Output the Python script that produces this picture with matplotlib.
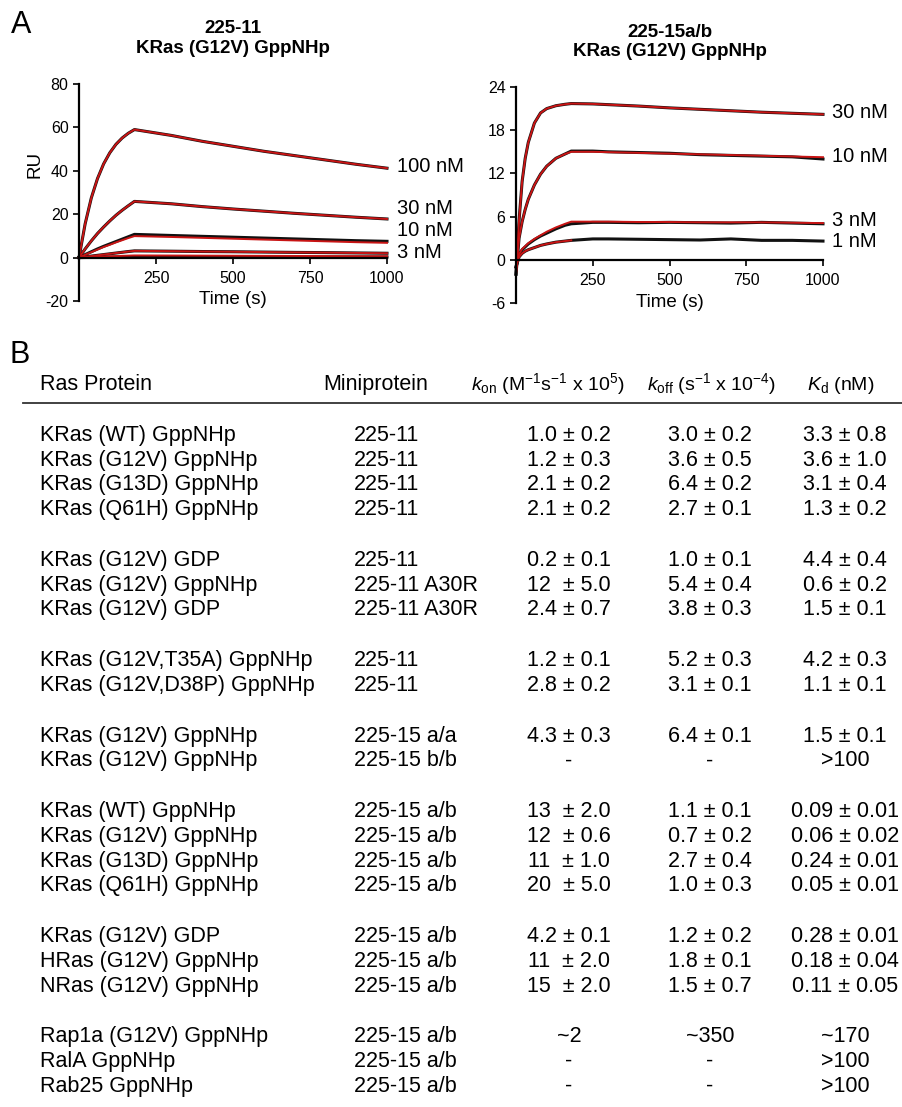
import matplotlib

matplotlib.use("Agg")
import matplotlib.pyplot as plt  # noqa: E402
from matplotlib.lines import Line2D  # noqa: E402

plt.rcParams["font.family"] = ["Liberation Sans", "DejaVu Sans"]
plt.rcParams["mathtext.fontset"] = "custom"
plt.rcParams["mathtext.rm"] = "Liberation Sans"
plt.rcParams["mathtext.it"] = "Liberation Sans:italic"
plt.rcParams["mathtext.bf"] = "Liberation Sans:bold"
plt.rcParams["axes.unicode_minus"] = False

W, H = 902, 1107
TRACE = "#111111"
FIT = "#c81414"

# ---- panel A, left: 225-11 binding KRas(G12V) GppNHp
left_time = [0, 20, 40, 60, 80, 100, 120, 140, 160, 180,
             300, 400, 500, 600, 700, 800, 900, 1000]
left_fit_100 = [0, 15.6, 27.5, 36.4, 43.2, 48.3, 52.2, 55.1, 57.3, 59.0,
                56.3, 53.6, 51.3, 49.0, 47.0, 45.0, 43.0, 41.2]
left_fit_30 = [0, 4.0, 7.7, 11.1, 14.1, 16.9, 19.5, 21.8, 23.9, 25.9,
               24.8, 23.5, 22.4, 21.4, 20.4, 19.5, 18.6, 17.8]
left_fit_10 = [0, 1.3, 2.5, 3.7, 4.9, 5.9, 7.0, 8.0, 9.0, 9.9,
               9.5, 9.1, 8.7, 8.3, 7.9, 7.5, 7.1, 6.8]
left_fit_3 = [0, 0.35, 0.7, 1.05, 1.4, 1.75, 2.1, 2.45, 2.8, 3.1,
              2.95, 2.8, 2.7, 2.55, 2.4, 2.3, 2.15, 2.0]
left_fit_1 = [0, 0.12, 0.23, 0.35, 0.46, 0.57, 0.68, 0.8, 0.9, 1.0,
              0.95, 0.9, 0.85, 0.8, 0.75, 0.7, 0.65, 0.6]
left_trace_10 = [0, 1.4, 2.7, 4.0, 5.2, 6.3, 7.4, 8.5, 9.6, 10.7,
                 10.2, 9.8, 9.4, 9.0, 8.6, 8.2, 7.8, 7.5]
left_trace_1 = [0, 0.05, 0.1, 0.15, 0.2, 0.25, 0.3, 0.35, 0.4, 0.45,
                0.45, 0.4, 0.4, 0.35, 0.35, 0.3, 0.3, 0.3]
left_labels = ["100 nM", "30 nM", "10 nM", "3 nM"]

# ---- panel A, right: 225-15a/b binding KRas(G12V) GppNHp
right_time = [0, 10, 20, 30, 40, 60, 80, 100, 130, 160, 180,
              250, 300, 400, 500, 600, 700, 800, 900, 1000]
right_fit_30 = [-2.0, 5.5, 10.9, 14.1, 16.3, 19.0, 20.4, 21.0, 21.4, 21.6, 21.7,
                21.65, 21.55, 21.35, 21.1, 20.9, 20.7, 20.5, 20.35, 20.2]
right_fit_10 = [-2.0, 3.0, 5.3, 7.0, 8.4, 10.4, 11.9, 13.0, 14.1, 14.7, 15.0,
                15.0, 14.95, 14.85, 14.75, 14.65, 14.55, 14.45, 14.35, 14.25]
right_fit_3 = [-1.0, 0.8, 1.5, 1.9, 2.3, 2.9, 3.4, 3.9, 4.5, 5.0, 5.3,
               5.3, 5.3, 5.25, 5.25, 5.2, 5.2, 5.2, 5.15, 5.1]
right_trace_3 = [-1.0, 0.8, 1.4, 1.8, 2.2, 2.8, 3.3, 3.7, 4.3, 4.8, 5.0,
                 5.2, 5.2, 5.15, 5.2, 5.15, 5.1, 5.2, 5.1, 5.0]
right_trace_10 = [-2.0, 3.0, 5.3, 7.0, 8.4, 10.4, 11.9, 13.0, 14.1, 14.7, 15.1,
                  15.1, 15.0, 14.9, 14.8, 14.6, 14.5, 14.4, 14.3, 14.0]
right_fit_1_time = [0, 10, 20, 30, 40, 60, 80, 100, 130, 160, 180]
right_fit_1 = [-1.0, 0.4, 0.9, 1.2, 1.4, 1.7, 2.0, 2.2, 2.45, 2.6, 2.7]
right_trace_1 = [-1.0, 0.4, 0.9, 1.2, 1.4, 1.7, 2.0, 2.2, 2.45, 2.6, 2.7,
                 2.9, 2.9, 2.85, 2.8, 2.75, 2.9, 2.7, 2.7, 2.6]
right_labels = ["30 nM", "10 nM", "3 nM", "1 nM"]

# ---- panel B table
ras_proteins = [
    "KRas (WT) GppNHp", "KRas (G12V) GppNHp", "KRas (G13D) GppNHp", "KRas (Q61H) GppNHp",
    "KRas (G12V) GDP", "KRas (G12V) GppNHp", "KRas (G12V) GDP",
    "KRas (G12V,T35A) GppNHp", "KRas (G12V,D38P) GppNHp",
    "KRas (G12V) GppNHp", "KRas (G12V) GppNHp",
    "KRas (WT) GppNHp", "KRas (G12V) GppNHp", "KRas (G13D) GppNHp", "KRas (Q61H) GppNHp",
    "KRas (G12V) GDP", "HRas (G12V) GppNHp", "NRas (G12V) GppNHp",
    "Rap1a (G12V) GppNHp", "RalA GppNHp", "Rab25 GppNHp",
]
miniproteins = [
    "225-11", "225-11", "225-11", "225-11",
    "225-11", "225-11 A30R", "225-11 A30R",
    "225-11", "225-11",
    "225-15 a/a", "225-15 b/b",
    "225-15 a/b", "225-15 a/b", "225-15 a/b", "225-15 a/b",
    "225-15 a/b", "225-15 a/b", "225-15 a/b",
    "225-15 a/b", "225-15 a/b", "225-15 a/b",
]
kon_vals = [
    "1.0 ± 0.2", "1.2 ± 0.3", "2.1 ± 0.2", "2.1 ± 0.2",
    "0.2 ± 0.1", "12  ± 5.0", "2.4 ± 0.7",
    "1.2 ± 0.1", "2.8 ± 0.2",
    "4.3 ± 0.3", "-",
    "13  ± 2.0", "12  ± 0.6", "11  ± 1.0", "20  ± 5.0",
    "4.2 ± 0.1", "11  ± 2.0", "15  ± 2.0",
    "~2", "-", "-",
]
koff_vals = [
    "3.0 ± 0.2", "3.6 ± 0.5", "6.4 ± 0.2", "2.7 ± 0.1",
    "1.0 ± 0.1", "5.4 ± 0.4", "3.8 ± 0.3",
    "5.2 ± 0.3", "3.1 ± 0.1",
    "6.4 ± 0.1", "-",
    "1.1 ± 0.1", "0.7 ± 0.2", "2.7 ± 0.4", "1.0 ± 0.3",
    "1.2 ± 0.2", "1.8 ± 0.1", "1.5 ± 0.7",
    "~350", "-", "-",
]
kd_vals = [
    "3.3 ± 0.8", "3.6 ± 1.0", "3.1 ± 0.4", "1.3 ± 0.2",
    "4.4 ± 0.4", "0.6 ± 0.2", "1.5 ± 0.1",
    "4.2 ± 0.3", "1.1 ± 0.1",
    "1.5 ± 0.1", ">100",
    "0.09 ± 0.01", "0.06 ± 0.02", "0.24 ± 0.01", "0.05 ± 0.01",
    "0.28 ± 0.01", "0.18 ± 0.04", "0.11 ± 0.05",
    "~170", ">100", ">100",
]
group_sizes = [4, 3, 2, 2, 4, 3, 3]


def px_axes(fig, left, top, right, bottom):
    """Axes placed by pixel box (origin top-left)."""
    return fig.add_axes([left / W, 1 - bottom / H, (right - left) / W, (bottom - top) / H])


def fx(x):
    return x / W


def fy(y):
    return 1 - y / H


def style_axis(ax, ylim, yticks):
    ax.set_xlim(0, 1000)
    ax.set_ylim(*ylim)
    ax.set_xticks([250, 500, 750, 1000])
    ax.set_yticks(yticks)
    for side in ("top", "right"):
        ax.spines[side].set_visible(False)
    ax.spines["bottom"].set_position(("data", 0))
    for side in ("left", "bottom"):
        ax.spines[side].set_linewidth(1.6)
    ax.tick_params(direction="out", length=4.5, width=1.2, labelsize=11.5, pad=3)
    ax.tick_params(axis="x", pad=5)
    ax.patch.set_alpha(0)


fig = plt.figure(figsize=(W / 100, H / 100), dpi=100)

# left kinetics plot
axl = px_axes(fig, 79, 84, 387, 301)
style_axis(axl, (-20, 80), [-20, 0, 20, 40, 60, 80])
left_traces = [left_fit_100, left_fit_30, left_trace_10, left_fit_3, left_trace_1]
left_fits = [left_fit_100, left_fit_30, left_fit_10, left_fit_3, left_fit_1]
for tr in left_traces:
    axl.plot(left_time, tr, color=TRACE, lw=2.2, clip_on=False)
for ft in left_fits:
    axl.plot(left_time, ft, color=FIT, lw=1.4, clip_on=False)
for lab, ly in zip(left_labels, [42, 22.5, 12.4, 2.2]):
    axl.text(1032, ly, lab, fontsize=14.5, va="center", ha="left")
axl.set_ylabel("RU", fontsize=13.5)
axl.yaxis.set_label_coords(-0.114, 0.63)
axl.set_xlabel("Time (s)", fontsize=13.5)
axl.xaxis.set_label_coords(0.5, 0.045)
fig.text(fx(233), fy(38.5), "225-11\nKRas (G12V) GppNHp", fontsize=13.5,
         fontweight="bold", ha="center", va="center", multialignment="center")

# right kinetics plot
axr = px_axes(fig, 516, 87, 823, 303)
style_axis(axr, (-6, 24), [-6, 0, 6, 12, 18, 24])
right_traces = [right_fit_30, right_trace_10, right_trace_3, right_trace_1]
for tr in right_traces:
    axr.plot(right_time, tr, color=TRACE, lw=2.2, clip_on=False)
for ft in [right_fit_30, right_fit_10, right_fit_3]:
    axr.plot(right_time, ft, color=FIT, lw=1.4, clip_on=False)
axr.plot(right_fit_1_time, right_fit_1, color=FIT, lw=1.4)
for lab, ly in zip(right_labels, [20.4, 14.4, 5.5, 2.5]):
    axr.text(1029, ly, lab, fontsize=14.5, va="center", ha="left")
axr.set_xlabel("Time (s)", fontsize=13.5)
axr.xaxis.set_label_coords(0.5, 0.04)
fig.text(fx(670), fy(42), "225-15a/b\nKRas (G12V) GppNHp", fontsize=13.5,
         fontweight="bold", ha="center", va="center", multialignment="center")

# panel letters
fig.text(fx(11), fy(25), "A", fontsize=22, va="center", ha="left")
fig.text(fx(9), fy(355), "B", fontsize=22, va="center", ha="left")

# ---- table (panel B)
TS = 15.5
HS = 14
hb = 390
fig.text(fx(40), fy(hb), "Ras Protein", fontsize=TS, va="baseline")
fig.text(fx(323), fy(hb), "Miniprotein", fontsize=TS, va="baseline")
fig.text(fx(471), fy(hb), r"$k_{\mathrm{on}}$ (M$^{\mathrm{-1}}$s$^{\mathrm{-1}}$ x 10$^{\mathrm{5}}$)",
         fontsize=HS, va="baseline")
fig.text(fx(647), fy(hb), r"$k_{\mathrm{off}}$ (s$^{\mathrm{-1}}$ x 10$^{\mathrm{-4}}$)",
         fontsize=HS, va="baseline")
fig.text(fx(807), fy(hb), r"$K_{\mathrm{d}}$ (nM)", fontsize=HS, va="baseline")
fig.add_artist(Line2D([fx(23), fx(902)], [fy(403), fy(403)], color="#333333", lw=1.3))

row = 0
for g, n in enumerate(group_sizes):
    for _ in range(n):
        yb = 433 + row * 24.75 + g * 26 + 7.8
        fig.text(fx(40), fy(yb), ras_proteins[row], fontsize=TS, va="baseline")
        fig.text(fx(354), fy(yb), miniproteins[row], fontsize=TS, va="baseline")
        fig.text(fx(569), fy(yb), kon_vals[row], fontsize=TS, va="baseline", ha="center")
        fig.text(fx(710), fy(yb), koff_vals[row], fontsize=TS, va="baseline", ha="center")
        fig.text(fx(845), fy(yb), kd_vals[row], fontsize=TS, va="baseline", ha="center")
        row += 1

fig.savefig("out.png", dpi=100)
